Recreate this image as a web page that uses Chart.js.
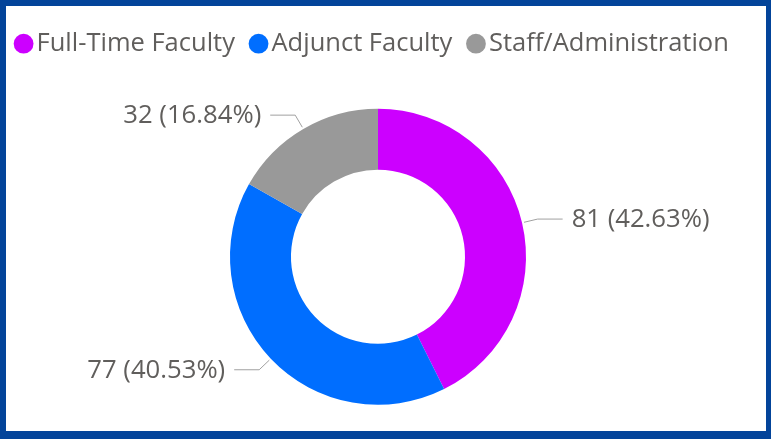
<!DOCTYPE html>
<html><head><meta charset="utf-8">
<script src="https://cdn.jsdelivr.net/npm/chart.js@4"></script>
<style>
html,body{margin:0;padding:0;background:#fff;overflow:hidden}
#wrap{position:relative;width:771px;height:439px;overflow:hidden}
#c{position:absolute;left:0;top:0}
#frame{position:absolute;left:0;top:0;width:771px;height:439px;box-sizing:border-box;border-style:solid;border-color:#03449a;border-width:6px 5px 8px 6px;pointer-events:none}
</style></head><body>
<div id="wrap"><canvas id="c" width="771" height="447"></canvas><div id="frame"></div></div>
<script>
const categories = ['Full-Time Faculty', 'Adjunct Faculty', 'Staff/Administration'];
const values = [81, 77, 32];
const colors = ['#cc00ff', '#006eff', '#999999'];

const FONT = 'Open Sans';
const textColor = '#605e5c';
const LEGEND_SIZE = 25.5;
const LABEL_SIZE = 25.7;

const total = values.reduce((a, b) => a + b, 0);

const leaderLabels = {
  id: 'leaderLabels',
  afterDatasetsDraw(chart) {
    const ctx = chart.ctx;
    const meta = chart.getDatasetMeta(0);
    ctx.save();
    ctx.font = LABEL_SIZE + 'px "' + FONT + '"';
    ctx.textBaseline = 'middle';
    meta.data.forEach((arc, i) => {
      const p = arc.getProps(['x', 'y', 'startAngle', 'endAngle', 'outerRadius'], true);
      const mid = (p.startAngle + p.endAngle) / 2;
      const c = Math.cos(mid), s = Math.sin(mid);
      const r0 = p.outerRadius + 2, r1 = p.outerRadius + 16;
      const x0 = p.x + c * r0, y0 = p.y + s * r0;
      const x1 = p.x + c * r1, y1 = p.y + s * r1;
      const right = c >= 0;
      const x2 = x1 + (right ? 25 : -25);
      ctx.strokeStyle = '#a0a0a0';
      ctx.lineWidth = 1;
      ctx.beginPath();
      ctx.moveTo(x0, y0); ctx.lineTo(x1, y1); ctx.lineTo(x2, y1);
      ctx.stroke();
      const v = values[i];
      const txt = v + ' (' + (v / total * 100).toFixed(2) + '%)';
      ctx.fillStyle = textColor;
      ctx.textAlign = right ? 'left' : 'right';
      ctx.fillText(txt, x2 + (right ? 9 : -9), y1 + 1);
    });
    ctx.restore();
  }
};

const chart = new Chart(document.getElementById('c'), {
  type: 'doughnut',
  data: {
    labels: categories,
    datasets: [{
      data: values,
      backgroundColor: colors,
      borderWidth: 0,
      hoverOffset: 0,
      radius: 148,
      cutout: '58.8%'
    }]
  },
  options: {
    responsive: false,
    animation: false,
    events: [],
    layout: { padding: { top: 7.5, bottom: 0, left: 0, right: 15 } },
    plugins: {
      tooltip: { enabled: false },
      legend: {
        display: true,
        position: 'top',
        align: 'start',
        labels: {
          usePointStyle: true,
          pointStyle: 'circle',
          boxWidth: 0.4,
          boxHeight: 14,
          padding: 23.4,
          color: textColor,
          font: { family: FONT, size: LEGEND_SIZE }
        }
      }
    }
  },
  plugins: [leaderLabels]
});
</script>
</body></html>
